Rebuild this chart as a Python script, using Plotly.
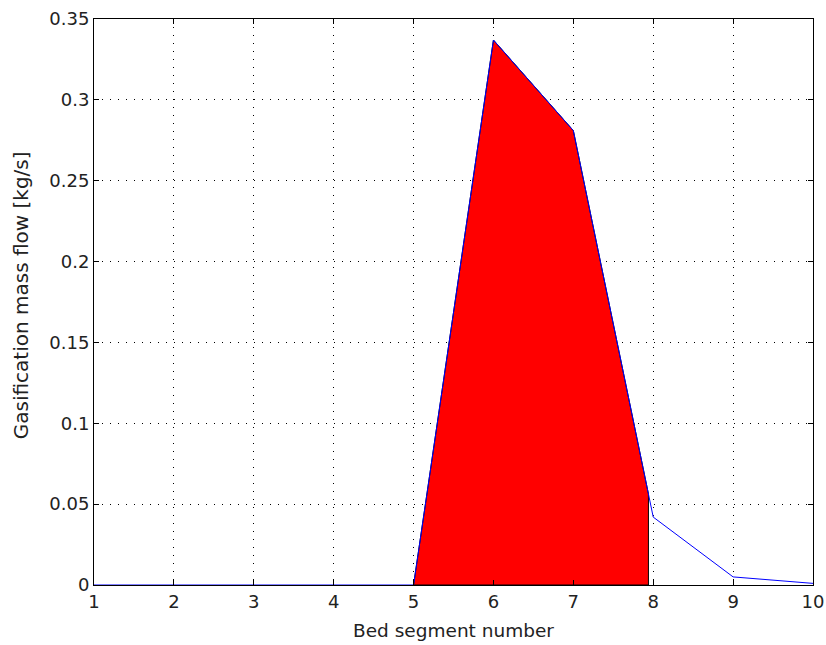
import numpy as np
import plotly.graph_objects as go

# Gasification mass flow per bed segment
segments = [1, 2, 3, 4, 5, 6, 7, 8, 9, 10]
mass_flow = [0, 0, 0, 0, 0, 0.337, 0.281, 0.042, 0.005, 0.001]

# Shaded region under the curve
shade_start = 5
shade_end = 7.94

x_tick_vals = [1, 2, 3, 4, 5, 6, 7, 8, 9, 10]
y_tick_vals = [0, 0.05, 0.1, 0.15, 0.2, 0.25, 0.3, 0.35]
y_tick_text = ["0", "0.05", "0.1", "0.15", "0.2", "0.25", "0.3", "0.35"]

# Build the shaded polygon from the data points inside the range
inner = [(x, y) for x, y in zip(segments, mass_flow) if shade_start <= x <= shade_end]
end_y = float(np.interp(shade_end, segments, mass_flow))
poly_x = [p[0] for p in inner] + [shade_end, shade_end, shade_start]
poly_y = [p[1] for p in inner] + [end_y, 0, 0]

fig = go.Figure()
fig.add_trace(go.Scatter(
    x=poly_x, y=poly_y, mode="lines", fill="toself",
    fillcolor="#FF0000", line=dict(color="black", width=1),
    hoverinfo="skip", showlegend=False,
))
fig.add_trace(go.Scatter(
    x=segments, y=mass_flow, mode="lines",
    line=dict(color="#0000FF", width=1), showlegend=False,
))

font = dict(family="DejaVu Sans", size=18, color="#222222")
axis_common = dict(
    showline=True, linecolor="black", linewidth=1, mirror="ticks",
    ticks="inside", ticklen=5, tickcolor="black", tickwidth=1,
    showgrid=True, gridcolor="black", gridwidth=1, griddash="1px,7px",
    zeroline=False, tickfont=font, automargin=False,
)

fig.update_xaxes(
    range=[1, 10], tickvals=x_tick_vals,
    title=dict(text="Bed segment number", font=dict(font, size=18.5), standoff=13),
    **axis_common,
)
fig.update_yaxes(
    range=[0, 0.35], tickvals=y_tick_vals, ticktext=y_tick_text,
    **axis_common,
)

# Vertical axis label placed as a rotated annotation
fig.add_annotation(
    text="Gasification mass flow [kg/s]", textangle=-90,
    xref="paper", yref="paper", x=-0.1015, y=0.512,
    xanchor="center", yanchor="middle", showarrow=False,
    font=dict(font, size=20),
)

fig.update_layout(
    width=826, height=645,
    margin=dict(l=94, r=13, t=19, b=60),
    paper_bgcolor="white", plot_bgcolor="white",
    font=font,
)

fig.write_html("out.html")
